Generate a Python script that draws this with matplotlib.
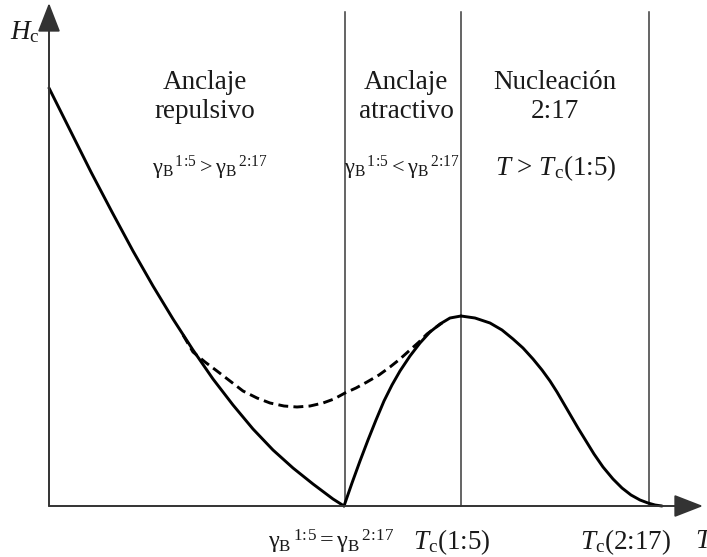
import matplotlib.pyplot as plt

plt.rcParams['font.family'] = 'Liberation Serif'
plt.rcParams['mathtext.fontset'] = 'custom'
plt.rcParams['mathtext.rm'] = 'Liberation Serif'
plt.rcParams['mathtext.it'] = 'Liberation Serif:italic'

# Hc(T), solid curve: repulsive branch, attractive branch, 2:17 nucleation branch
rep_T = [0.00, 0.21, 0.42, 0.63, 0.84, 1.04, 1.24, 1.44, 1.64, 1.84, 2.04, 2.24,
         2.44, 2.64, 2.84, 2.95]
rep_H = [4.18, 3.76, 3.34, 2.94, 2.55, 2.20, 1.87, 1.56, 1.27, 1.01, 0.77, 0.56,
         0.38, 0.22, 0.07, 0.00]

atr_T = [2.95, 3.03, 3.11, 3.19, 3.27, 3.35, 3.43, 3.51, 3.61, 3.71, 3.81, 3.91,
         4.01, 4.12]
atr_H = [0.00, 0.23, 0.45, 0.66, 0.86, 1.05, 1.21, 1.35, 1.50, 1.63, 1.74, 1.82,
         1.88, 1.90]

nuc_T = [4.12, 4.26, 4.41, 4.53, 4.64, 4.74, 4.84, 4.93, 5.01, 5.08, 5.15, 5.22,
         5.29, 5.37, 5.45, 5.54, 5.64, 5.73, 5.82, 5.91, 5.99, 6.06, 6.13]
nuc_H = [1.90, 1.88, 1.83, 1.76, 1.67, 1.58, 1.47, 1.36, 1.25, 1.14, 1.02, 0.90,
         0.78, 0.65, 0.52, 0.39, 0.27, 0.18, 0.11, 0.06, 0.03, 0.01, 0.00]

# dashed curve
dash_T = [1.34, 1.44, 1.56, 1.68, 1.81, 1.94, 2.08, 2.21, 2.35, 2.48, 2.61, 2.74,
          2.85, 2.96, 3.07, 3.18, 3.30, 3.41, 3.51, 3.61, 3.70, 3.78, 3.86, 3.93]
dash_H = [1.71, 1.54, 1.44, 1.35, 1.25, 1.15, 1.08, 1.03, 1.00, 0.99, 1.00, 1.03,
          1.07, 1.13, 1.18, 1.24, 1.31, 1.39, 1.47, 1.56, 1.64, 1.72, 1.78, 1.83]

# region boundaries
bounds = [2.96, 4.12, 6.00]
bound_top = 4.94

fig = plt.figure(figsize=(7.07, 5.57), dpi=100)
ax = fig.add_axes([0, 0, 1, 1])
ax.set_xlim(-0.49, 6.58)
ax.set_ylim(-0.51, 5.06)
ax.axis('off')

for b in bounds:
    ax.plot([b, b], [0, bound_top], color='#3a3a3a', lw=1.1)

for T, H in [(rep_T, rep_H), (atr_T, atr_H), (nuc_T, nuc_H)]:
    ax.plot(T, H, color='black', lw=2.1, solid_capstyle='round',
            solid_joinstyle='round')
ax.plot(dash_T, dash_H, color='black', lw=2.1, dashes=(3.4, 1.8))

# axes with arrow heads
arrow = dict(arrowstyle='-|>,head_length=1.8,head_width=0.7', color='#333333',
             lw=1.4, shrinkA=0, shrinkB=0)
ax.annotate('', xy=(0, 5.03), xytext=(0, 0), arrowprops=arrow)
ax.annotate('', xy=(6.54, 0), xytext=(0, 0), arrowprops=arrow)

fs = 19.5
gs = 16
tc = '#1a1a1a'
ax.text(-0.24, 4.74, r'$H_{\mathrm{c}}$', fontsize=fs, ha='center', va='center', color=tc)

ax.text(1.56, 4.09, 'Anclaje\nrepulsivo', fontsize=fs, ha='center', va='center',
        linespacing=1.2, color=tc)
ax.text(3.57, 4.09, 'Anclaje\natractivo', fontsize=fs, ha='center', va='center',
        linespacing=1.2, color=tc)
ax.text(5.06, 4.09, 'Nucleación\n2:17', fontsize=fs, ha='center', va='center',
        linespacing=1.2, color=tc)

g15 = r'{\mathrm{γ}_{\mathrm{B}}}^{\,1\!:\!5}'
g217 = r'{\mathrm{γ}_{\mathrm{B}}}^{\,2\!:\!17}'
ax.text(1.61, 3.38, '$' + g15 + r' > ' + g217 + '$', fontsize=gs, ha='center',
        va='center', color=tc)
ax.text(3.53, 3.38, '$' + g15 + r' < ' + g217 + '$', fontsize=gs, ha='center',
        va='center', color=tc)
ax.text(5.07, 3.38, r'$T$ > $T_{\mathrm{c}}$(1:5)', fontsize=fs, ha='center',
        va='center', color=tc)

ax.text(2.82, -0.36, '$' + g15 + r' = ' + g217 + '$', fontsize=17.5, ha='center',
        va='center', color=tc)
ax.text(4.03, -0.36, r'$T_{\mathrm{c}}$(1:5)', fontsize=fs, ha='center', va='center',
        color=tc)
ax.text(5.77, -0.36, r'$T_{\mathrm{c}}$(2:17)', fontsize=fs, ha='center', va='center',
        color=tc)
ax.text(6.46, -0.36, r'$T$', fontsize=fs, ha='left', va='center', color=tc)

fig.savefig('out.png', dpi=100, facecolor='white')
